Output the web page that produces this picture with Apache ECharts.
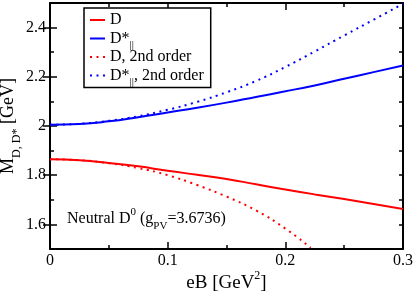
<!DOCTYPE html>
<html><head><meta charset="utf-8">
<script src="https://cdn.jsdelivr.net/npm/echarts@6/dist/echarts.min.js"></script>
<style>html,body{margin:0;padding:0;background:#fff}#c{width:415px;height:292px}</style>
</head><body><div id="c"></div>
<script>
// ---- data ----
const eB = [0, 0.025, 0.05, 0.075, 0.1, 0.125, 0.15, 0.175, 0.2, 0.225, 0.25, 0.275, 0.3];
const massD = [1.865, 1.861, 1.850, 1.836, 1.818, 1.802, 1.785, 1.763, 1.742, 1.722, 1.703, 1.683, 1.663];
const massDstar = [2.005, 2.008, 2.019, 2.036, 2.055, 2.074, 2.095, 2.118, 2.141, 2.165, 2.192, 2.219, 2.246];
const eB2ndD = [0, 0.025, 0.05, 0.075, 0.1, 0.125, 0.15, 0.175, 0.2, 0.2215];
const massD2nd = [1.865, 1.861, 1.849, 1.829, 1.800, 1.760, 1.713, 1.657, 1.583, 1.505];
const massDstar2nd = [2.005, 2.009, 2.021, 2.040, 2.066, 2.098, 2.137, 2.183, 2.240, 2.303, 2.368, 2.432, 2.497];
const seriesNames = ['D', 'D*‖', 'D, 2nd order', 'D*‖, 2nd order'];
const xTickValues = [0, 0.1, 0.2, 0.3];
const xTickLabels = ['0', '0.1', '0.2', '0.3'];
const yTickValues = [1.6, 1.8, 2.0, 2.2, 2.4];
const yTickLabels = ['1.6', '1.8', '2', '2.2', '2.4'];

const F = 'Liberation Serif';
const zip = (xs, ys) => ys.map((y, i) => [xs[i], y]);
const lookup = (vals, labels) => v => {
  const i = vals.findIndex(t => Math.abs(t - v) < 1e-6);
  return i >= 0 ? labels[i] : '';
};
const frame = {show: true, onZero: false, lineStyle: {color: '#000', width: 2}};
const tickStyle = {color: '#000', width: 1.5};
const Y0 = 1.5, Y1 = 2.5;

const chart = echarts.init(document.getElementById('c'), null, {renderer: 'canvas'});
const sub = (size) => ({fontFamily: F, fontSize: size, color: '#000', height: 1, verticalAlign: 'bottom'});
const sup = (size) => ({fontFamily: F, fontSize: size, color: '#000', height: 4, verticalAlign: 'top'});

chart.setOption({
  animation: false,
  backgroundColor: '#fff',
  grid: {left: 50, right: 12, top: 3, bottom: 43, outerBoundsMode: 'none', containLabel: false},
  xAxis: [
    {type: 'value', position: 'bottom', min: 0, max: 0.3, interval: 0.1,
     axisLine: frame,
     axisTick: {show: true, inside: true, length: 7, lineStyle: tickStyle},
     minorTick: {show: true, splitNumber: 2, length: 4, lineStyle: tickStyle},
     splitLine: {show: false}, minorSplitLine: {show: false},
     axisLabel: {fontFamily: F, fontSize: 16, color: '#000', margin: 4,
                 formatter: lookup(xTickValues, xTickLabels)},
     name: 'eB [GeV{p|2}]', nameLocation: 'middle', nameGap: 25, nameMoveOverlap: false,
     nameTextStyle: {fontFamily: F, fontSize: 19, color: '#000', lineHeight: 19,
                     rich: {p: sup(12)}}},
    {type: 'value', position: 'top', min: 0, max: 0.3, interval: 0.1,
     axisLine: frame,
     axisTick: {show: true, inside: true, length: 7, lineStyle: tickStyle},
     minorTick: {show: true, splitNumber: 2, length: 4, lineStyle: tickStyle},
     splitLine: {show: false}, minorSplitLine: {show: false},
     axisLabel: {show: false}}
  ],
  yAxis: [
    {type: 'value', position: 'left', min: Y0, max: Y1, interval: 0.1,
     axisLine: frame,
     axisTick: {show: true, inside: true, length: 4, lineStyle: tickStyle},
     splitLine: {show: false},
     axisLabel: {fontFamily: F, fontSize: 16, color: '#000', margin: 4,
                 formatter: lookup(yTickValues, yTickLabels)},
     name: 'M{s|D, D*} [GeV]', nameLocation: 'middle', nameGap: 33, nameRotate: 90, nameMoveOverlap: false,
     nameTextStyle: {fontFamily: F, fontSize: 18, color: '#000', lineHeight: 18,
                     rich: {s: sub(12)}}},
    {type: 'value', position: 'left', min: Y0, max: Y1,
     axisLine: {show: false},
     axisTick: {show: true, inside: true, length: 7, lineStyle: tickStyle, customValues: yTickValues},
     splitLine: {show: false}, axisLabel: {show: false}},
    {type: 'value', position: 'right', min: Y0, max: Y1, interval: 0.1,
     axisLine: frame,
     axisTick: {show: true, inside: true, length: 4, lineStyle: tickStyle},
     splitLine: {show: false}, axisLabel: {show: false}},
    {type: 'value', position: 'right', min: Y0, max: Y1,
     axisLine: {show: false},
     axisTick: {show: true, inside: true, length: 7, lineStyle: tickStyle, customValues: yTickValues},
     splitLine: {show: false}, axisLabel: {show: false}}
  ],
  legend: {
    orient: 'vertical', left: 84, top: 8, padding: [4, 7, 0, 5],
    itemWidth: 15, itemHeight: 14, itemGap: -1.5,
    borderColor: '#000', borderWidth: 1.5, borderRadius: 0, backgroundColor: '#fff',
    itemStyle: {opacity: 0},
    data: seriesNames,
    textStyle: {fontFamily: F, fontSize: 16, color: '#000', lineHeight: 14,
                rich: {s: sub(11)}},
    formatter: n => n.includes('‖') ? n.replace('‖', '{s|||}') : n + '{s| }'
  },
  graphic: [{
    type: 'text', left: 67, top: 207, z: 100,
    style: {
      text: 'Neutral D{p|0} (g{s|PV}=3.6736)',
      fontFamily: F, fontSize: 16, fill: '#000', lineHeight: 16,
      rich: {
        p: {fontFamily: F, fontSize: 11, fill: '#000', height: 3, verticalAlign: 'top'},
        s: {fontFamily: F, fontSize: 11, fill: '#000', height: 1, verticalAlign: 'bottom'}
      }
    }
  }],
  series: [
    {name: seriesNames[0], type: 'line', data: zip(eB, massD), smooth: true, symbol: 'none',
     lineStyle: {color: '#ff0000', width: 2}, itemStyle: {color: '#ff0000'}},
    {name: seriesNames[1], type: 'line', data: zip(eB, massDstar), smooth: true, symbol: 'none',
     lineStyle: {color: '#0000ff', width: 2}, itemStyle: {color: '#0000ff'}},
    {name: seriesNames[2], type: 'line', data: zip(eB2ndD, massD2nd), smooth: true, symbol: 'none',
     lineStyle: {color: '#ff0000', width: 2, type: [2, 4.5]}, itemStyle: {color: '#ff0000'}},
    {name: seriesNames[3], type: 'line', data: zip(eB, massDstar2nd), smooth: true, symbol: 'none',
     lineStyle: {color: '#0000ff', width: 2, type: [2, 4.5]}, itemStyle: {color: '#0000ff'}}
  ]
});
</script></body></html>
